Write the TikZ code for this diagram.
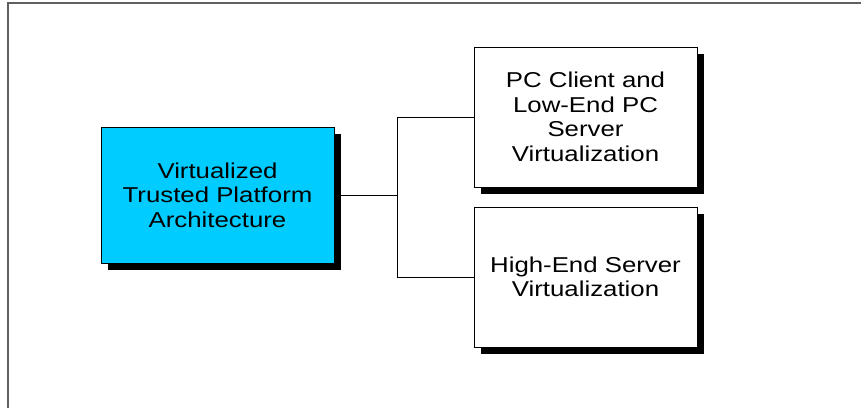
\documentclass[tikz,border=0pt]{standalone}
\usepackage{fontspec}
\setmainfont{Liberation Sans}[FakeStretch=1.2]
\usetikzlibrary{shadows}
\definecolor{boxcyan}{HTML}{00CCFF}
\definecolor{framegray}{HTML}{606060}
\begin{document}
\begin{tikzpicture}[x=1pt,y=-1pt,
  box/.style={draw=black, line width=0.8pt, align=center, inner sep=0pt,
    font=\fontsize{21.5}{24.5}\selectfont,
    drop shadow={shadow xshift=7pt, shadow yshift=-7pt, fill=black, opacity=1}},
  link/.style={draw=black, line width=0.8pt}]
  \useasboundingbox (0,0) rectangle (861,408);
  % outer frame
  \draw[framegray, line width=2pt] (8,408) -- (8,3) -- (861,3);
  % boxes
  \node[box, fill=boxcyan, minimum width=233pt, minimum height=136pt] (main) at (217.5,195)
    {Virtualized\\Trusted Platform\\Architecture};
  \node[box, fill=white, minimum width=223pt, minimum height=140pt] (pc) at (585.5,117)
    {PC Client and\\Low-End PC\\Server\\Virtualization};
  \node[box, fill=white, minimum width=223pt, minimum height=140pt] (hi) at (585.5,277)
    {High-End Server\\Virtualization};
  % tree connector
  \coordinate (j) at (397,195);
  \draw[link] (main.east) -- (j);
  \draw[link] (j) |- (pc.west);
  \draw[link] (j) |- (hi.west);
\end{tikzpicture}
\end{document}
